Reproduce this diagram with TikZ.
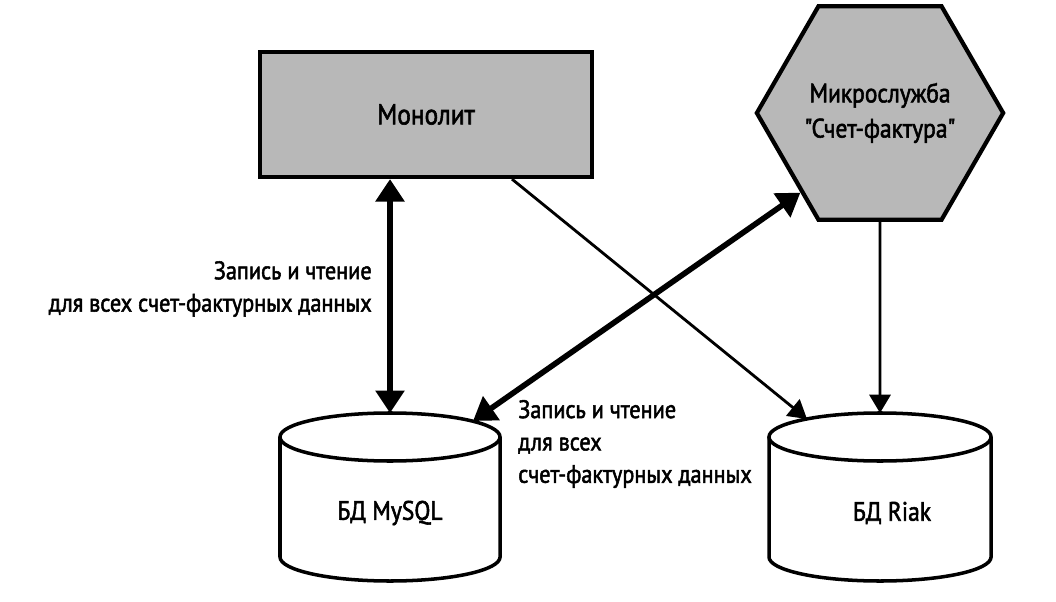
\documentclass[tikz,border=0pt]{standalone}
\usepackage{fontspec}
\newfontfamily\lblfont{PT Sans}[FakeStretch=0.88, FakeBold=2]
\usetikzlibrary{arrows.meta,shapes.geometric,calc}
\definecolor{boxgray}{RGB}{184,184,184}
\begin{document}
\begin{tikzpicture}[x=0.025cm,y=-0.025cm,
  boxstyle/.style={draw=black, line width=3pt, fill=boxgray, inner sep=0pt},
  cylstyle/.style={draw=black, line width=2.5pt, fill=white},
  lbl/.style={font=\lblfont\fontsize{18}{23}\selectfont, inner sep=0pt},
  bigarrow/.style={line width=4pt, {Triangle[length=16pt,width=20pt]}-{Triangle[length=16pt,width=20pt]}},
  smallarrow/.style={line width=2pt, -{Triangle[length=13pt,width=15pt]}}
]
\useasboundingbox (0,0) rectangle (1056,602);
\fill[white] (0,0) rectangle (1056,602);

% Monolith
\node[boxstyle, minimum width=8.3cm, minimum height=3.125cm,
      font=\lblfont\fontsize{20.5}{24}\selectfont] (mono) at (426,114.5) {Монолит};

% Microservice hexagon
\node[boxstyle, regular polygon, regular polygon sides=6, minimum size=5.1cm,
      align=center, font=\lblfont\fontsize{19}{25}\selectfont] (hex) at (880,113)
      {Микрослужба\\"Счет-фактура"};

% MySQL cylinder
\draw[cylstyle] (280,437) -- (280,557) arc[start angle=180,end angle=360,x radius=2.75cm,y radius=0.6cm] -- (500,437);
\draw[cylstyle] (390,437) ellipse[x radius=2.75cm, y radius=0.6cm];
\node[lbl, font=\lblfont\fontsize{19}{23}\selectfont] (mysql) at (390,513) {БД MySQL};
\coordinate (mysqltop) at (390,413);
\coordinate (mysqlright) at (473,421);

% Riak cylinder
\draw[cylstyle] (769,437) -- (769,557) arc[start angle=180,end angle=360,x radius=2.775cm,y radius=0.6cm] -- (991,437);
\draw[cylstyle] (880,437) ellipse[x radius=2.775cm, y radius=0.6cm];
\node[lbl, font=\lblfont\fontsize{19}{23}\selectfont] (riak) at (892,513) {БД Riak};
\coordinate (riaktop) at (880,413);
\coordinate (riakleft) at (807,419);

% Connectors
\draw[bigarrow] ($(mono.south)+(-36,0)$) -- (mysqltop);
\draw[smallarrow] ($(mono.south)+(86,0)$) -- (riakleft);
\draw[bigarrow] (mysqlright) -- (hex.225);
\draw[smallarrow] (hex.south) -- (riaktop);

% Labels
\node[lbl, align=right, anchor=east] (lblA) at (372,289)
  {Запись и чтение\\для всех счет-фактурных данных};
\node[lbl, align=left, anchor=west] (lblB) at (518,444)
  {Запись и чтение\\для всех\\счет-фактурных данных};
\end{tikzpicture}
\end{document}
